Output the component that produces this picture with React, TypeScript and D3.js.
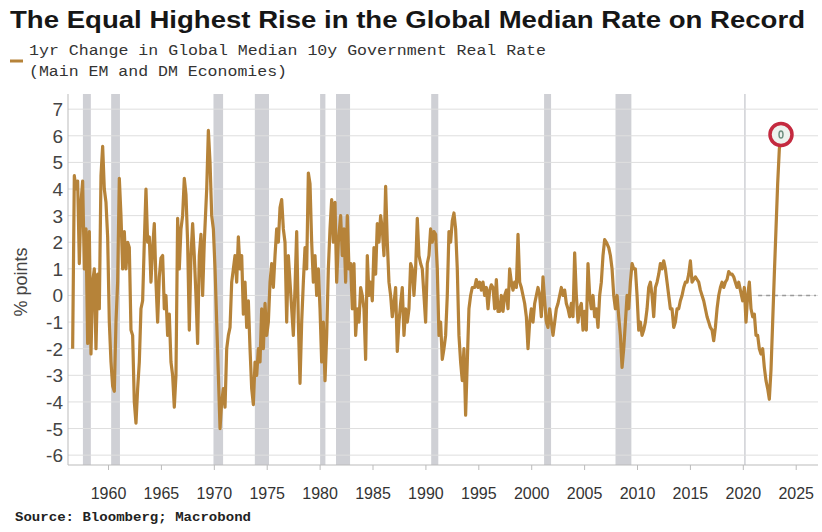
import React from "react";
import * as d3 from "d3";

const title = "The Equal Highest Rise in the Global Median Rate on Record";
const legendLine1 = "1yr Change in Global Median 10y Government Real Rate";
const legendLine2 = "(Main EM and DM Economies)";
const yAxisLabel = "% points";
const sourceText = "Source: Bloomberg; Macrobond";

const yTicks = [7, 6, 5, 4, 3, 2, 1, 0, -1, -2, -3, -4, -5, -6];
const xTicks = [1960, 1965, 1970, 1975, 1980, 1985, 1990, 1995, 2000, 2005, 2010, 2015, 2020, 2025];

// US recession periods (shaded bars), [start, end] in decimal years
const recessions: [number, number][] = [
  [1957.58, 1958.33],
  [1960.25, 1961.08],
  [1969.92, 1970.83],
  [1973.83, 1975.17],
  [1980.0, 1980.5],
  [1981.5, 1982.83],
  [1990.5, 1991.17],
  [2001.17, 2001.83],
  [2007.92, 2009.42],
  [2020.08, 2020.2],
];

// Series is read in six consecutive stretches; each stretch is evenly sampled
const sampleStepYears = 0.1575;
const segmentStartYears = [1956.61, 1969.28, 1981.94, 1994.61, 2007.28, 2019.94];

const values1956 = [
  -2.0, 4.5, 4.0, 4.3, 1.2, 3.5, 4.3, 1.0, 2.5, -1.8, 2.4, -2.2, 0.5, 1.0, -2.0, 0.8,
  -0.5, 4.5, 5.6, 4.0, 3.5, 2.2, -1.0, -2.5, -3.4, -3.6, -1.0, 0.5, 4.4, 3.0, 1.0, 2.4,
  1.0, 2.0, 1.8, -1.3, -1.5, -4.0, -4.8, -3.5, -2.5, -0.5, -0.2, 2.0, 4.0, 2.0, 2.2, 0.5,
  1.8, 2.7, 0.5, -1.0, 0.7, 1.4, 1.5, -0.5, 0.0, -1.5, -0.7, -2.5, -3.0, -4.2, -3.0, 2.9,
  1.0, 2.5, 3.0, 4.4, 3.8, 2.0, -1.3, 1.5, 2.7, 1.5, 0.0, -1.8, 1.5, 2.3, 0.0, 2.0,
];
const values1969 = [
  4.0, 6.2, 5.0, 3.0, 2.5, 1.0, -1.0, -3.0, -5.0, -4.0, -3.5, -4.2, -2.0, -1.5, -1.2, 0.5,
  1.0, 1.5, 0.5, 2.2, 1.0, 1.5, -0.7, 0.5, -1.2, -0.2, -2.0, -3.5, -4.1, -2.5, -3.0, -2.0,
  -2.5, -0.5, -2.0, -0.3, -1.5, -1.0, 0.5, 1.2, 0.3, 1.5, 2.5, 2.0, 3.3, 3.6, 2.5, 2.0,
  -1.0, 1.5, 0.5, -0.5, -1.5, 0.3, 2.4, -1.0, -3.3, -1.0, 0.5, 1.8, 1.0, 4.6, 4.2, 2.0,
  0.5, 1.5, 0.0, 1.0, -0.5, -2.5, -1.0, -3.2, -1.5, 1.0, 2.5, 3.6, 2.0, 3.5, 0.5, 2.0,
];
const values1982 = [
  3.0, 1.5, 2.5, 0.5, 3.0, 1.0, 1.2, -0.5, 1.2, -1.5, -0.5, -1.0, 0.3, 0.0, -0.5, -2.4,
  1.5, 0.0, 0.5, -0.2, 1.8, 0.8, 2.7, 2.0, 3.0, 2.5, 1.5, 4.1, 2.0, 0.5, 0.0, -0.8,
  -0.3, 0.3, -2.1, -1.0, -0.3, 0.3, -1.5, -0.5, -1.0, -0.5, 1.2, 1.0, 0.0, 1.0, 2.9, 1.5,
  1.2, 1.0, 0.0, -1.0, 1.2, 1.5, 2.5, 2.0, 2.4, 2.3, 1.0, -1.5, -1.0, -2.4, -2.0, -1.5,
  0.0, 2.4, 2.0, 2.8, 3.1, 2.5, 1.0, -1.5, -2.5, -3.2, -2.0, -4.5, -2.5, -0.5, 0.0, 0.3,
];
const values1995 = [
  0.3, 0.6, 0.3, 0.5, 0.2, 0.5, 0.0, 0.3, -0.5, 0.2, 0.4, 0.3, -0.5, 0.6, -0.6, -0.6,
  0.0, -0.6, 0.0, 0.2, -0.5, 1.0, 0.5, 0.2, 0.5, 0.3, 2.3, 0.5, 0.3, 0.0, -0.3, -0.8,
  -2.0, -1.0, -0.5, -1.0, -0.3, 0.0, 0.3, 0.0, -0.8, 0.7, -0.2, -1.0, -1.2, -0.5, -1.0, -1.5,
  -1.0, -0.5, -0.3, 0.0, 0.3, 0.0, 0.2, -0.3, -0.5, -0.8, -0.3, -0.8, 1.6, 0.0, -1.0, -0.5,
  -0.3, -1.3, -0.6, -1.3, 1.2, 0.0, -0.5, 0.0, -0.8, -0.5, -1.2, 0.0, 0.5, 1.5, 2.1, 2.0,
];
const values2007 = [
  1.8, 1.5, 1.0, 0.0, -0.5, 0.0, -0.8, -1.5, -2.7, -2.0, -1.0, 0.0, -0.5, 0.5, 1.2, 1.0,
  1.0, 0.0, -1.3, -1.0, -1.5, -1.3, -1.0, -0.5, 0.3, 0.5, 0.0, -0.8, 0.3, 0.5, 0.8, 1.2,
  1.0, 1.3, 1.0, 0.5, 0.0, -0.5, -0.5, -1.2, -1.0, -0.5, -0.5, -0.2, 0.0, 0.3, 0.5, 0.5,
  0.8, 1.3, 0.5, 0.6, 0.7, 0.6, 0.5, 0.2, 0.0, -0.2, -0.5, -0.8, -1.0, -1.2, -1.3, -1.7,
  -1.2, -0.5, 0.0, 0.3, 0.5, 0.3, 0.5, 0.6, 0.9, 0.8, 0.8, 0.7, 0.5, 0.3, 0.5, 0.2,
];
const values2020 = [
  -0.2, 0.3, -1.0, 0.0, 0.5, -0.5, -0.8, -0.7, -1.5, -1.5, -2.0, -2.2, -2.0, -2.7, -3.2, -3.5,
  -3.9, -2.8, -1.0, 0.8, 2.5, 4.2, 5.5, 6.05,
];

const segments = [values1956, values1969, values1982, values1995, values2007, values2020];

const W = 822;
const H = 532;
const plotLeft = 68;
const plotRight = 818;
const plotTop = 94;
const plotBottom = 465;

const LINE_COLOR = "#b68339";

export default function App() {
  const x = d3.scaleLinear().domain([1956.17, 2027.06]).range([plotLeft, plotRight]);
  const y = d3.scaleLinear().domain([-6.37, 7.57]).range([plotBottom, plotTop]);

  const points: [number, number][] = [];
  segments.forEach((seg, si) => {
    seg.forEach((v, i) => {
      points.push([segmentStartYears[si] + i * sampleStepYears, v]);
    });
  });

  const line = d3
    .line<[number, number]>()
    .x((d) => x(d[0]))
    .y((d) => y(d[1]));

  const last = points[points.length - 1];
  const lx = x(last[0]);
  const ly = y(last[1]);

  return (
    <svg
      width={W}
      height={H}
      viewBox={`0 0 ${W} ${H}`}
      style={{ position: "absolute", left: 0, top: 0, background: "#fff" }}
    >
      <rect x={0} y={0} width={W} height={H} fill="#fff" />
      <text
        x={10}
        y={28}
        fontFamily="'Liberation Sans', Arial, sans-serif"
        fontWeight="bold"
        fontSize={23}
        fill="#161616"
        textLength={795}
        lengthAdjust="spacingAndGlyphs"
      >
        {title}
      </text>

      {/* legend */}
      <line x1={10} x2={23} y1={61} y2={61} stroke={LINE_COLOR} strokeWidth={3} />
      <text
        x={29}
        y={55}
        fontFamily="'Liberation Mono', 'DejaVu Sans Mono', monospace"
        fontSize={14}
        fill="#333"
        textLength={517}
        lengthAdjust="spacingAndGlyphs"
      >
        {legendLine1}
      </text>
      <text
        x={29}
        y={76}
        fontFamily="'Liberation Mono', 'DejaVu Sans Mono', monospace"
        fontSize={14}
        fill="#333"
        textLength={258}
        lengthAdjust="spacingAndGlyphs"
      >
        {legendLine2}
      </text>

      {/* recession bars */}
      {recessions.map(([a, b], i) => (
        <rect
          key={i}
          x={x(a)}
          y={plotTop}
          width={Math.max(1.5, x(b) - x(a))}
          height={plotBottom - plotTop}
          fill="#cfd0d5"
        />
      ))}

      {/* gridlines */}
      {yTicks.map((t) => (
        <line
          key={t}
          x1={plotLeft}
          x2={plotRight}
          y1={y(t)}
          y2={y(t)}
          stroke="#dedede"
          strokeWidth={1}
        />
      ))}

      {/* axes */}
      <line x1={plotLeft} x2={plotLeft} y1={plotTop} y2={plotBottom} stroke="#bbb" strokeWidth={1} />
      <line x1={plotLeft} x2={plotRight} y1={plotBottom} y2={plotBottom} stroke="#bbb" strokeWidth={1} />
      {xTicks.map((t) => (
        <g key={t}>
          <line x1={x(t)} x2={x(t)} y1={plotBottom} y2={plotBottom + 5} stroke="#bbb" />
          <text
            x={x(t)}
            y={499}
            textAnchor="middle"
            fontFamily="'Liberation Sans', Arial, sans-serif"
            fontSize={16}
            fill="#333"
          >
            {t}
          </text>
        </g>
      ))}
      {yTicks.map((t) => (
        <text
          key={t}
          x={63}
          y={y(t) + 7}
          textAnchor="end"
          fontFamily="'Liberation Sans', Arial, sans-serif"
          fontSize={19}
          fill="#444"
        >
          {t < 0 ? `-${Math.abs(t)}` : `${t}`}
        </text>
      ))}
      <text
        transform={`translate(27, 282) rotate(-90)`}
        textAnchor="middle"
        fontFamily="'Liberation Sans', Arial, sans-serif"
        fontSize={18}
        fill="#444"
      >
        {yAxisLabel}
      </text>

      {/* dashed zero reference at the end */}
      <line
        x1={x(2021.4)}
        x2={plotRight - 2}
        y1={y(0)}
        y2={y(0)}
        stroke="#9a9a9a"
        strokeWidth={1.5}
        strokeDasharray="4 4"
      />

      {/* series */}
      <path d={line(points) || ""} fill="none" stroke={LINE_COLOR} strokeWidth={3.2} strokeLinejoin="round" />

      {/* highlight circle */}
      <circle cx={lx} cy={ly} r={11} fill="#eef2ee" stroke="#c42a3f" strokeWidth={3.5} />
      <ellipse cx={lx} cy={ly} rx={2} ry={3.5} fill="none" stroke="#6f8f80" strokeWidth={1.5} />

      <text
        x={15}
        y={521}
        fontFamily="'Liberation Mono', 'DejaVu Sans Mono', monospace"
        fontWeight="bold"
        fontSize={12}
        fill="#222"
        textLength={236}
        lengthAdjust="spacingAndGlyphs"
      >
        {sourceText}
      </text>
    </svg>
  );
}
